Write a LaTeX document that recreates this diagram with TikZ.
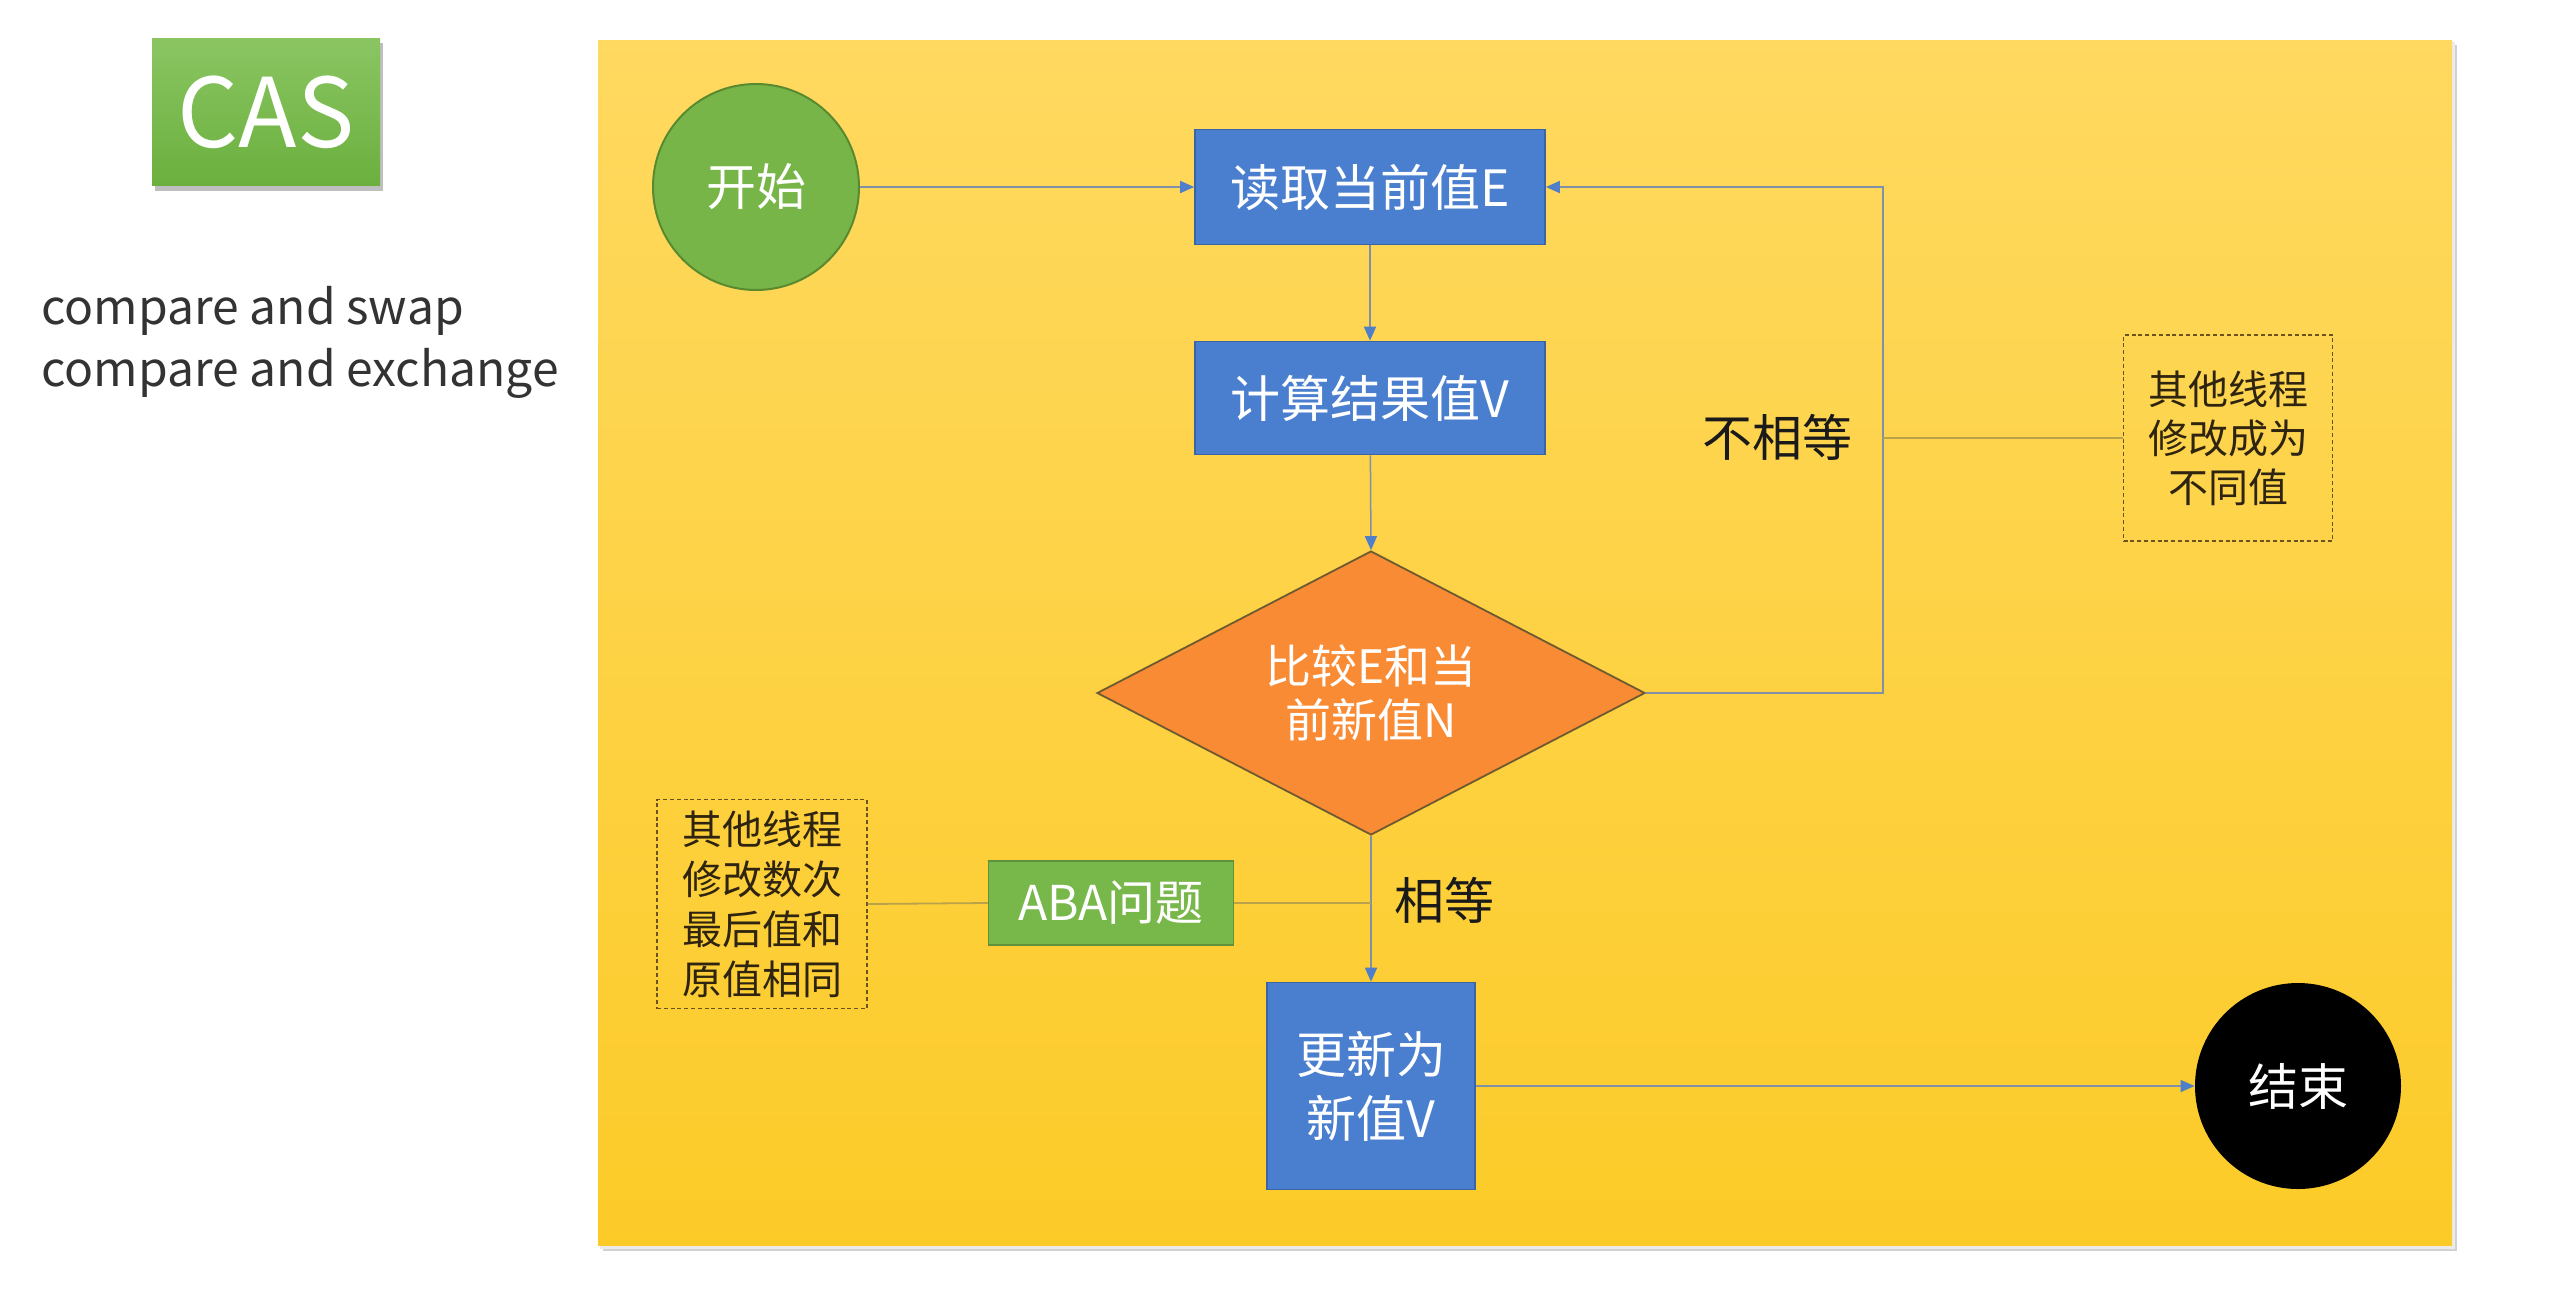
\documentclass[tikz,border=0pt]{standalone}
\usepackage{fontspec}
\setmainfont{Noto Sans CJK SC}
\usetikzlibrary{shapes.geometric,arrows.meta,calc}
\definecolor{panelTop}{HTML}{FFD960}
\definecolor{panelBot}{HTML}{FCCB28}
\definecolor{boxBlue}{HTML}{4A7ECF}
\definecolor{boxBlueEdge}{HTML}{3A64A6}
\definecolor{startGreen}{HTML}{77B548}
\definecolor{startEdge}{HTML}{5A8A30}
\definecolor{abaGreen}{HTML}{78B74A}
\definecolor{casTop}{HTML}{8AC562}
\definecolor{casBot}{HTML}{6BB03E}
\definecolor{cmpOrange}{HTML}{F98B35}
\definecolor{cmpEdge}{HTML}{6E5A30}
\definecolor{connCol}{HTML}{8090A8}
\definecolor{tipCol}{HTML}{4F7FC8}
\definecolor{noteLine}{HTML}{B9A24A}
\definecolor{noteEdge}{HTML}{6B5320}
\definecolor{noteText}{HTML}{2E2410}
\definecolor{labelText}{HTML}{1A1A1A}
\begin{document}
\begin{tikzpicture}[x=0.5pt,y=-0.5pt,
  bluebox/.style={rectangle,fill=boxBlue,draw=boxBlueEdge,line width=0.8pt,text=white,align=center,inner sep=0pt},
  conn/.style={draw=connCol,line width=0.75pt,-{Triangle[length=7pt,width=6pt,color=tipCol]}},
  noteline/.style={draw=noteLine,line width=0.9pt},
  notebox/.style={rectangle,draw=noteEdge,line width=0.7pt,dash pattern=on 2pt off 1.4pt,text=noteText,align=center,inner sep=0pt,font=\fontsize{20pt}{25pt}\selectfont},
  lbl/.style={text=labelText,font=\fontsize{25pt}{30pt}\selectfont,inner sep=0pt}]
\useasboundingbox (0,0) rectangle (2556,1308);
\fill[white] (0,0) rectangle (2556,1308);
% panel with shadow
\fill[black!18] (603,45) rectangle (2457,1251);
\fill[black!8] (600,42) rectangle (2455,1249);
\shade[top color=panelTop,bottom color=panelBot] (598,40) rectangle (2452,1245);
% CAS
\fill[black!25] (155,43) rectangle (383,191);
\node[rectangle,top color=casTop,bottom color=casBot,minimum width=114pt,minimum height=73.5pt,inner sep=0pt,text=white,font=\fontsize{48pt}{50pt}\selectfont] (cas) at (266,112) {CAS};
\node[anchor=base west,inner sep=0pt,text=black!80,font=\fontsize{24pt}{28pt}\selectfont] (t1) at (41,324) {compare and swap};
\node[anchor=base west,inner sep=0pt,text=black!80,font=\fontsize{24pt}{28pt}\selectfont] (t2) at (41,386) {compare and exchange};
% nodes
\node[circle,fill=startGreen,draw=startEdge,line width=1pt,minimum size=103pt,inner sep=0pt,text=white,font=\fontsize{25pt}{30pt}\selectfont] (start) at (756,187) {开始};
\node[bluebox,minimum width=175pt,minimum height=57.5pt,font=\fontsize{25pt}{30pt}\selectfont] (read) at (1370,187) {读取当前值E};
\node[bluebox,minimum width=175pt,minimum height=56.5pt,font=\fontsize{25pt}{30pt}\selectfont] (calc) at (1370,398) {计算结果值V};
\node[diamond,shape aspect=1.93,fill=cmpOrange,draw=cmpEdge,line width=0.9pt,minimum width=274pt,minimum height=142pt,inner sep=0pt,text=white,align=center,font=\fontsize{23pt}{27pt}\selectfont] (cmp) at (1371,693) {比较E和当\\前新值N};
\node[bluebox,minimum width=104pt,minimum height=103.5pt,font=\fontsize{25pt}{32pt}\selectfont] (upd) at (1371,1086) {更新为\\新值V};
\node[circle,fill=black,minimum size=103pt,inner sep=0pt,text=white,font=\fontsize{25pt}{30pt}\selectfont] (end) at (2298,1086) {结束};
\node[rectangle,fill=abaGreen,draw=abaGreen!80!black,line width=0.6pt,minimum width=122.5pt,minimum height=42pt,inner sep=0pt,text=white,font=\fontsize{24pt}{28pt}\selectfont] (aba) at (1111,903) {ABA问题};
\node[notebox,minimum width=105pt,minimum height=104.5pt] (lbox) at (762,904) {其他线程\\修改数次\\最后值和\\原值相同};
\node[notebox,minimum width=104.5pt,minimum height=103pt,font=\fontsize{20pt}{24.5pt}\selectfont] (rbox) at (2228,438) {其他线程\\修改成为\\不同值};
\node[lbl] (neq) at (1777,437) {不相等};
\node[lbl] (eq) at (1444,900) {相等};
% connectors
\coordinate (loopc) at (1883,438);
\coordinate (abac) at (1371,903);
\draw[conn] (start) -- (read);
\draw[conn] (read) -- (calc);
\draw[conn] (calc) -- (cmp.north);
\draw[conn] (cmp.east) -| (loopc) |- (read.east);
\draw[noteline] (loopc) -- (rbox.west);
\draw[conn] (cmp.south) -- (upd.north);
\draw[noteline] (abac) -- (aba.east);
\draw[noteline] (aba.west) -- (lbox.east);
\draw[conn] (upd.east) -- (end.west);
\end{tikzpicture}
\end{document}
